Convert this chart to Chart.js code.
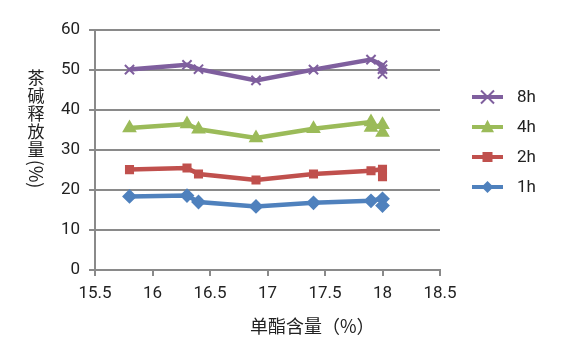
<!DOCTYPE html>
<html><head><meta charset="utf-8">
<script src="https://cdn.jsdelivr.net/npm/chart.js@4.4.0/dist/chart.umd.min.js"></script>
<style>html,body{margin:0;padding:0;background:#fff}#w{width:572px;height:353px}</style>
</head><body><div id="w"><canvas id="c"></canvas></div>
<script>
const seriesNames = ['8h','4h','2h','1h'];
const x8h = [15.8,16.3,16.4,16.9,17.4,17.9,18.0,18.0,18.0];
const y8h = [50.1,51.3,50.2,47.4,50.1,52.6,51.2,50.2,49.0];
const x4h = [15.8,16.3,16.4,16.9,17.4,17.9,17.9,18.0,18.0];
const y4h = [35.5,36.5,35.2,33.0,35.3,37.0,35.6,36.3,34.4];
const x2h = [15.8,16.3,16.4,16.9,17.4,17.9,18.0,18.0];
const y2h = [25.1,25.5,24.0,22.5,24.0,24.8,25.2,23.3];
const x1h = [15.8,16.3,16.4,16.9,17.4,17.9,18.0,18.0];
const y1h = [18.4,18.6,17.0,15.9,16.8,17.3,17.8,16.1];
const xTitle = '单酯含量（%）';
const yTitleChars = ['茶','碱','释','放','量'];
const yTitleTail = '(%)';

const colors = {'8h':'#7f5f9e','4h':'#9bbb59','2h':'#c0504d','1h':'#4f81bd'};
const styles = {'8h':'crossRot','4h':'triangle','2h':'rect','1h':'rectRot'};
const radii = {'8h':6.5,'4h':6.5,'2h':5,'1h':6};
const pts = (xs,ys)=>xs.map((x,i)=>({x:x,y:ys[i]}));
const dataMap = {'8h':pts(x8h,y8h),'4h':pts(x4h,y4h),'2h':pts(x2h,y2h),'1h':pts(x1h,y1h)};

function drawMarker(ctx, style, x, y, r, color){
  ctx.save();
  ctx.fillStyle=color; ctx.strokeStyle=color; ctx.lineWidth=2;
  ctx.beginPath();
  if(style==='crossRot'){
    ctx.moveTo(x-r,y-r);ctx.lineTo(x+r,y+r);ctx.moveTo(x+r,y-r);ctx.lineTo(x-r,y+r);ctx.stroke();
  } else if(style==='triangle'){
    ctx.moveTo(x,y-r*1.1);ctx.lineTo(x+r,y+r*0.8);ctx.lineTo(x-r,y+r*0.8);ctx.closePath();ctx.fill();
  } else if(style==='rect'){
    ctx.fillRect(x-r,y-r,2*r,2*r);
  } else {
    ctx.moveTo(x,y-r);ctx.lineTo(x+r,y);ctx.lineTo(x,y+r);ctx.lineTo(x-r,y);ctx.closePath();ctx.fill();
  }
  ctx.restore();
}

const overlay = {
  id:'overlay',
  afterDraw(chart){
    const ctx=chart.ctx;
    ctx.save();
    ctx.fillStyle='#222';
    ctx.font='17px "Noto Sans CJK SC"';
    ctx.textAlign='center'; ctx.textBaseline='middle';
    yTitleChars.forEach((ch,i)=>ctx.fillText(ch,36,78+i*17.8));
    ctx.save();
    ctx.translate(36,174); ctx.rotate(Math.PI/2);
    ctx.font='18px "Noto Sans CJK SC"';
    ctx.fillText(yTitleTail,0,0);
    ctx.restore();
    ctx.font='18px "Noto Sans CJK SC"';
    ctx.textAlign='left';
    ctx.fillText(xTitle,250,326);
    // legend
    const ly=[97,127,157,187];
    seriesNames.forEach((n,i)=>{
      ctx.strokeStyle=colors[n]; ctx.lineWidth=4;
      ctx.beginPath();ctx.moveTo(472,ly[i]);ctx.lineTo(503,ly[i]);ctx.stroke();
      drawMarker(ctx,styles[n],487.5,ly[i],radii[n],colors[n]);
      ctx.fillStyle='#222';ctx.font='17px Roboto';ctx.textAlign='left';
      ctx.fillText(n,517,ly[i]+1);
    });
    ctx.restore();
  }
};

new Chart(document.getElementById('c'),{
  type:'line',
  data:{datasets:seriesNames.map(n=>({
    label:n,data:dataMap[n],borderColor:colors[n],backgroundColor:colors[n],
    borderWidth:4.5,pointStyle:styles[n],pointRadius:radii[n],pointBorderWidth:2,
    pointBorderColor:colors[n],pointBackgroundColor:colors[n],tension:0
  }))},
  options:{
    responsive:true,maintainAspectRatio:false,animation:false,
    layout:{padding:{left:0,right:132,top:30,bottom:0}},
    plugins:{legend:{display:false},tooltip:{enabled:false}},
    scales:{
      x:{type:'linear',min:15.5,max:18.5,
        ticks:{stepSize:0.5,color:'#222',font:{family:'Roboto',size:17},padding:8,maxRotation:0,
          callback:v=>String(v)},
        grid:{drawOnChartArea:false,drawTicks:true,tickLength:6,color:'#8a8a8a',lineWidth:2},
        border:{color:'#8a8a8a',width:2},
        afterFit(s){s.height=83;}
      },
      y:{min:0,max:60,
        ticks:{stepSize:10,color:'#222',font:{family:'Roboto',size:17},padding:9},
        grid:{drawTicks:true,tickLength:6,color:'#8a8a8a',lineWidth:2},
        border:{color:'#8a8a8a',width:2},
        afterFit(s){s.width=95;}
      }
    }
  },
  plugins:[overlay]
});
</script></body></html>
